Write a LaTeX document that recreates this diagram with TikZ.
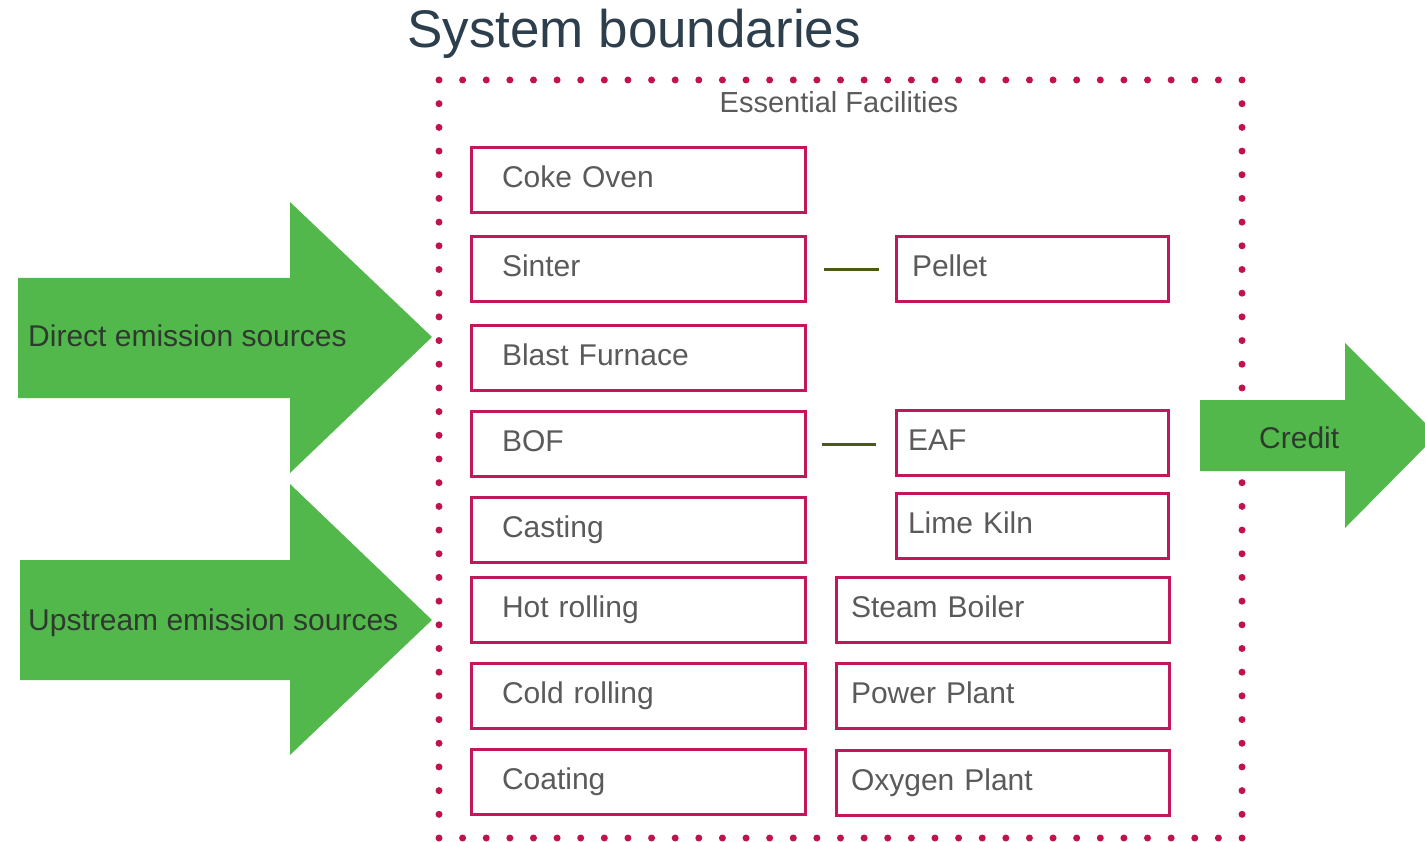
\documentclass[tikz,border=0pt]{standalone}
\usepackage{fontspec}
\setmainfont{Liberation Sans}
\definecolor{frame}{HTML}{C2185B}
\definecolor{dotc}{HTML}{C0124F}
\definecolor{boxtext}{HTML}{5A5A5A}
\definecolor{arrowgreen}{HTML}{53B84B}
\definecolor{arrowtext}{HTML}{2F3A2F}
\definecolor{titlec}{HTML}{2D3E4C}
\definecolor{linkc}{HTML}{4B5A12}
\begin{document}
\begin{tikzpicture}[x=1pt,y=-1pt,
  fac/.style={draw=frame, line width=3pt, rectangle, minimum height=65pt,
    text height=22pt, text depth=7pt, align=left, inner ysep=0pt,
    text=boxtext, font=\fontsize{30pt}{36pt}\selectfont},
  leftcol/.style={fac, text width=272pt, inner xsep=31pt},
  pelletcol/.style={fac, text width=240pt, inner xsep=16pt},
  eafcol/.style={fac, text width=248pt, inner xsep=12pt},
  utilcol/.style={fac, text width=303pt, inner xsep=15pt},
  link/.style={draw=linkc, line width=3pt},
  bigarrow/.style={fill=arrowgreen},
  arrowlabel/.style={text=arrowtext, inner sep=0pt, anchor=base west,
    font=\fontsize{30pt}{36pt}\selectfont}]
\useasboundingbox (0,0) rectangle (1425,842);
\clip (0,0) rectangle (1425,842);

% title
\node[text=titlec, inner sep=0pt, anchor=base west,
  font=\fontsize{53pt}{60pt}\selectfont] (title) at (407,48) {System boundaries};

% dotted system boundary (803 x 758, dots about 23.6 apart)
\foreach \i in {0,...,34} {
  \fill[dotc] ({439+\i*23.6176},80) circle (3.5pt);
  \fill[dotc] ({439+\i*23.6176},838) circle (3.5pt);
}
\foreach \j in {1,...,31} {
  \fill[dotc] (439,{80+\j*23.6875}) circle (3.5pt);
  \fill[dotc] (1242,{80+\j*23.6875}) circle (3.5pt);
}
\node[text=boxtext, inner sep=0pt, anchor=base,
  font=\fontsize{29pt}{34pt}\selectfont] (essential) at (839,113) {Essential Facilities};

% process units
\node[leftcol] (coke)    at (638,180.5) {Coke Oven};
\node[leftcol] (sinter)  at (638,269.5) {Sinter};
\node[leftcol] (blast)   at (638,358.5) {Blast Furnace};
\node[leftcol] (bof)     at (638,444)   {BOF};
\node[leftcol] (casting) at (638,529.5) {Casting};
\node[leftcol] (hot)     at (638,609.5) {Hot rolling};
\node[leftcol] (cold)    at (638,695.5) {Cold rolling};
\node[leftcol] (coating) at (638,782)   {Coating};

\node[pelletcol] (pellet) at (1032,269.5) {Pellet};
\node[eafcol] (eaf)       at (1032,442.5) {EAF};
\node[eafcol] (lime)      at (1032,526)   {Lime Kiln};
\node[utilcol] (steam)    at (1002.5,609.5) {Steam Boiler};
\node[utilcol] (power)    at (1002.5,695.5) {Power Plant};
\node[utilcol] (oxygen)   at (1002.5,782.5) {Oxygen Plant};

% alternative routes
\draw[link, shorten <=17pt, shorten >=16pt] (sinter) -- (pellet);
\draw[link, shorten <=15pt, shorten >=19pt] (bof.east) -- (bof.east -| eaf.west);

% emission inputs and credit output
\fill[bigarrow] (18,278) -- (290,278) -- (290,202) -- (432,337) -- (290,473)
  -- (290,398) -- (18,398) -- cycle;
\node[arrowlabel] (direct) at (28,347) {Direct emission sources};

\fill[bigarrow] (20,560) -- (290,560) -- (290,484) -- (432,620) -- (290,755)
  -- (290,680) -- (20,680) -- cycle;
\node[arrowlabel] (upstream) at (28,630) {Upstream emission sources};

\fill[bigarrow] (1200,400) -- (1345,400) -- (1345,343) -- (1437,435) -- (1345,528)
  -- (1345,471) -- (1200,471) -- cycle;
\node[arrowlabel] (credit) at (1259,448) {Credit};
\end{tikzpicture}
\end{document}
